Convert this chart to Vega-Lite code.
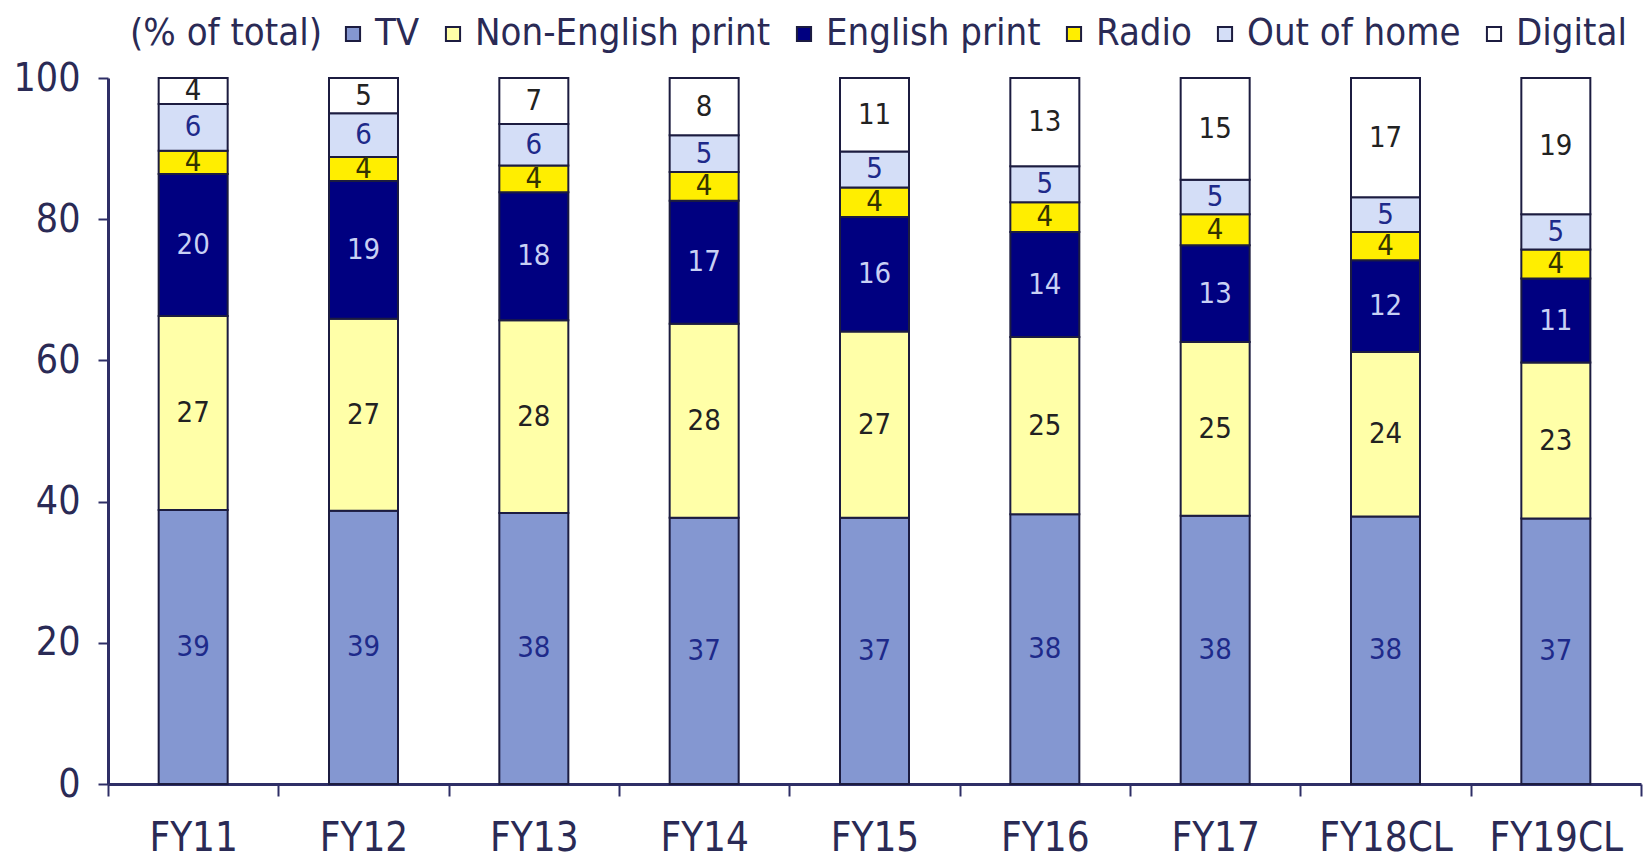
{
  "$schema": "https://vega.github.io/schema/vega-lite/v6.json",
  "width": 1533,
  "height": 706,
  "autosize": {"type": "none"},
  "padding": {"left": 108, "top": 78, "right": 8, "bottom": 74},
  "background": "white",
  "config": {
    "view": {"stroke": null},
    "font": "DejaVu Sans Condensed"
  },
  "data": {
    "values": [
      {"year": "FY11", "media": "TV", "order": 1, "value": 38.8, "label": "39"},
      {"year": "FY11", "media": "Non-English print", "order": 2, "value": 27.5, "label": "27"},
      {"year": "FY11", "media": "English print", "order": 3, "value": 20.1, "label": "20"},
      {"year": "FY11", "media": "Radio", "order": 4, "value": 3.3, "label": "4"},
      {"year": "FY11", "media": "Out of home", "order": 5, "value": 6.6, "label": "6"},
      {"year": "FY11", "media": "Digital", "order": 6, "value": 3.7, "label": "4"},
      {"year": "FY12", "media": "TV", "order": 1, "value": 38.7, "label": "39"},
      {"year": "FY12", "media": "Non-English print", "order": 2, "value": 27.2, "label": "27"},
      {"year": "FY12", "media": "English print", "order": 3, "value": 19.5, "label": "19"},
      {"year": "FY12", "media": "Radio", "order": 4, "value": 3.4, "label": "4"},
      {"year": "FY12", "media": "Out of home", "order": 5, "value": 6.2, "label": "6"},
      {"year": "FY12", "media": "Digital", "order": 6, "value": 5.0, "label": "5"},
      {"year": "FY13", "media": "TV", "order": 1, "value": 38.4, "label": "38"},
      {"year": "FY13", "media": "Non-English print", "order": 2, "value": 27.3, "label": "28"},
      {"year": "FY13", "media": "English print", "order": 3, "value": 18.1, "label": "18"},
      {"year": "FY13", "media": "Radio", "order": 4, "value": 3.8, "label": "4"},
      {"year": "FY13", "media": "Out of home", "order": 5, "value": 5.9, "label": "6"},
      {"year": "FY13", "media": "Digital", "order": 6, "value": 6.5, "label": "7"},
      {"year": "FY14", "media": "TV", "order": 1, "value": 37.7, "label": "37"},
      {"year": "FY14", "media": "Non-English print", "order": 2, "value": 27.5, "label": "28"},
      {"year": "FY14", "media": "English print", "order": 3, "value": 17.4, "label": "17"},
      {"year": "FY14", "media": "Radio", "order": 4, "value": 4.1, "label": "4"},
      {"year": "FY14", "media": "Out of home", "order": 5, "value": 5.2, "label": "5"},
      {"year": "FY14", "media": "Digital", "order": 6, "value": 8.1, "label": "8"},
      {"year": "FY15", "media": "TV", "order": 1, "value": 37.7, "label": "37"},
      {"year": "FY15", "media": "Non-English print", "order": 2, "value": 26.4, "label": "27"},
      {"year": "FY15", "media": "English print", "order": 3, "value": 16.2, "label": "16"},
      {"year": "FY15", "media": "Radio", "order": 4, "value": 4.2, "label": "4"},
      {"year": "FY15", "media": "Out of home", "order": 5, "value": 5.1, "label": "5"},
      {"year": "FY15", "media": "Digital", "order": 6, "value": 10.4, "label": "11"},
      {"year": "FY16", "media": "TV", "order": 1, "value": 38.2, "label": "38"},
      {"year": "FY16", "media": "Non-English print", "order": 2, "value": 25.1, "label": "25"},
      {"year": "FY16", "media": "English print", "order": 3, "value": 14.9, "label": "14"},
      {"year": "FY16", "media": "Radio", "order": 4, "value": 4.2, "label": "4"},
      {"year": "FY16", "media": "Out of home", "order": 5, "value": 5.1, "label": "5"},
      {"year": "FY16", "media": "Digital", "order": 6, "value": 12.5, "label": "13"},
      {"year": "FY17", "media": "TV", "order": 1, "value": 38.0, "label": "38"},
      {"year": "FY17", "media": "Non-English print", "order": 2, "value": 24.6, "label": "25"},
      {"year": "FY17", "media": "English print", "order": 3, "value": 13.7, "label": "13"},
      {"year": "FY17", "media": "Radio", "order": 4, "value": 4.4, "label": "4"},
      {"year": "FY17", "media": "Out of home", "order": 5, "value": 4.9, "label": "5"},
      {"year": "FY17", "media": "Digital", "order": 6, "value": 14.4, "label": "15"},
      {"year": "FY18CL", "media": "TV", "order": 1, "value": 37.9, "label": "38"},
      {"year": "FY18CL", "media": "Non-English print", "order": 2, "value": 23.3, "label": "24"},
      {"year": "FY18CL", "media": "English print", "order": 3, "value": 13.0, "label": "12"},
      {"year": "FY18CL", "media": "Radio", "order": 4, "value": 4.0, "label": "4"},
      {"year": "FY18CL", "media": "Out of home", "order": 5, "value": 4.9, "label": "5"},
      {"year": "FY18CL", "media": "Digital", "order": 6, "value": 16.9, "label": "17"},
      {"year": "FY19CL", "media": "TV", "order": 1, "value": 37.6, "label": "37"},
      {"year": "FY19CL", "media": "Non-English print", "order": 2, "value": 22.1, "label": "23"},
      {"year": "FY19CL", "media": "English print", "order": 3, "value": 11.9, "label": "11"},
      {"year": "FY19CL", "media": "Radio", "order": 4, "value": 4.1, "label": "4"},
      {"year": "FY19CL", "media": "Out of home", "order": 5, "value": 5.0, "label": "5"},
      {"year": "FY19CL", "media": "Digital", "order": 6, "value": 19.3, "label": "19"}
    ]
  },
  "layer": [
    {
      "mark": {"type": "bar", "width": 69, "stroke": "#1c1c40", "strokeWidth": 2},
      "encoding": {
        "x": {
          "field": "year", "type": "nominal", "sort": null,
          "scale": {"paddingInner": 0, "paddingOuter": 0},
          "axis": {
            "title": null, "labelAngle": 0, "tickBand": "extent",
            "domainColor": "#2e2e66", "domainWidth": 3,
            "tickColor": "#2e2e66", "tickWidth": 2, "tickSize": 12,
            "labelFontSize": 40, "labelColor": "#2a2a55", "labelPadding": 22,
            "labelFont": "DejaVu Sans Condensed"
          }
        },
        "y": {
          "field": "value", "type": "quantitative", "stack": "zero",
          "scale": {"domain": [0, 100]},
          "axis": {
            "title": null, "values": [0, 20, 40, 60, 80, 100], "grid": false,
            "domainColor": "#2e2e66", "domainWidth": 3,
            "tickColor": "#2e2e66", "tickWidth": 2, "tickSize": 10,
            "labelFontSize": 39, "labelColor": "#2a2a55", "labelPadding": 18,
            "labelFont": "DejaVu Sans Condensed"
          }
        },
        "order": {"field": "order", "type": "quantitative"},
        "color": {
          "field": "media", "type": "nominal",
          "scale": {
            "domain": ["TV", "Non-English print", "English print", "Radio", "Out of home", "Digital"],
            "range": ["#8497D1", "#FFFFA8", "#000080", "#FFEE00", "#D4DEF7", "#FFFFFF"]
          },
          "legend": {
            "orient": "none", "legendX": 22, "legendY": -63,
            "direction": "horizontal", "title": "(% of total)", "titleOrient": "left",
            "titleFontSize": 38, "titleFontWeight": "normal", "titleColor": "#2a2a55",
            "titleFont": "DejaVu Sans Condensed", "titlePadding": 12, "titleLimit": 600,
            "labelFontSize": 38, "labelColor": "#2a2a55", "labelFont": "DejaVu Sans Condensed",
            "symbolType": "square", "symbolSize": 200, "symbolStrokeColor": "#1c1c40",
            "symbolStrokeWidth": 2, "labelOffset": 3, "columnPadding": 14,
            "labelLimit": 500
          }
        }
      }
    },
    {
      "transform": [
        {"stack": "value", "groupby": ["year"], "sort": [{"field": "order", "order": "ascending"}], "as": ["y0", "y1"]},
        {"calculate": "(datum.y0 + datum.y1) / 2", "as": "mid"}
      ],
      "mark": {"type": "text", "fontSize": 29, "font": "DejaVu Sans Condensed", "baseline": "middle", "align": "center"},
      "encoding": {
        "x": {"field": "year", "type": "nominal", "sort": null},
        "y": {"field": "mid", "type": "quantitative"},
        "text": {"field": "label"},
        "color": {
          "field": "media", "type": "nominal",
          "scale": {
            "domain": ["TV", "Non-English print", "English print", "Radio", "Out of home", "Digital"],
            "range": ["#1E2A8A", "#222222", "#C8D0F4", "#333300", "#1E2A8A", "#222222"]
          },
          "legend": null
        }
      }
    }
  ],
  "resolve": {"scale": {"color": "independent"}}
}
